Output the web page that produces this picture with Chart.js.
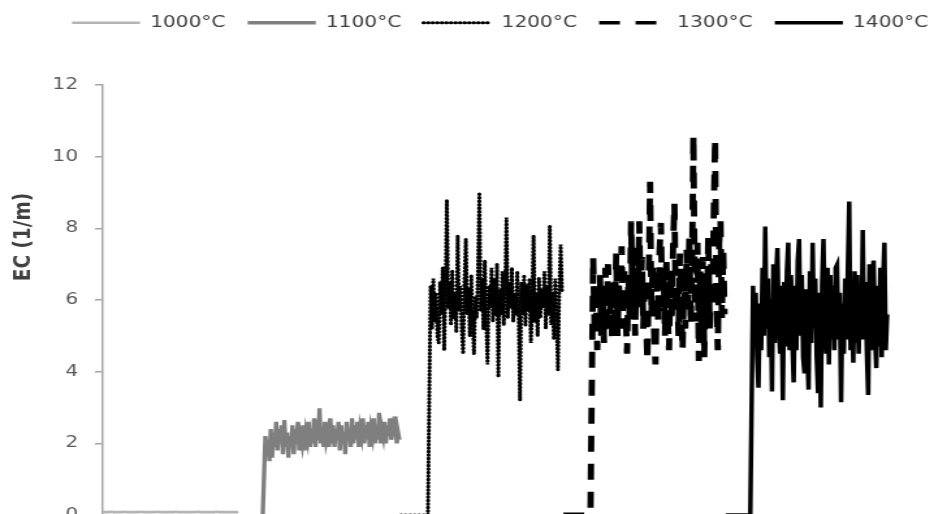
<!DOCTYPE html>
<html>
<head>
<meta charset="utf-8">
<script src="https://cdn.jsdelivr.net/npm/chart.js@4/dist/chart.umd.min.js"></script>
<style>
  html, body { margin: 0; padding: 0; background: #ffffff; overflow: hidden; }
  #wrap { width: 934px; height: 514px; overflow: hidden; position: relative; }
</style>
</head>
<body>
<div id="wrap"><canvas id="c" width="718" height="540" style="display:block;width:934px;height:540px;"></canvas></div>
<script>
// ---------------- DATA ----------------
const seriesNames = ['1000°C', '1100°C', '1200°C', '1300°C', '1400°C'];
const yTitle = 'EC (1/m)';
const yTicks = [0, 2, 4, 6, 8, 10, 12];

// time index where each record starts, and sample step of the readings
const start1000 = 0;
const leadStart1100 = 50,  start1100 = 60;
const leadStart1200 = 110, start1200 = 121;
const leadStart1300 = 170, start1300 = 181;
const leadStart1400 = 230, start1400 = 240;
const sampleStep = 0.5;

const values1000 = [
  0.08, 0.08, 0.08, 0.09, 0.08, 0.08, 0.08, 0.08, 0.09, 0.08,
  0.08, 0.08, 0.08, 0.08, 0.09, 0.08, 0.08, 0.08, 0.08, 0.08,
  0.09, 0.08, 0.08, 0.08, 0.08, 0.08, 0.08, 0.09, 0.08, 0.08,
  0.08, 0.08, 0.08, 0.08, 0.08, 0.09, 0.08, 0.08, 0.08, 0.08,
  0.08, 0.08, 0.09, 0.08, 0.08, 0.08, 0.08, 0.08, 0.08, 0.08, 0.08
];

const lead1100 = [-0.1, -0.1, -0.1, -0.1, -0.1, -0.1, -0.1, -0.1, -0.1, -0.1];
const values1100 = [
  2.2, 1.7, 2.1, 1.5, 2.4, 1.6, 2.3, 1.9, 2.6, 1.8,
  2.4, 2.0, 2.5, 1.7, 2.65, 1.9, 2.3, 1.6, 2.2, 1.9,
  2.5, 1.7, 2.4, 2.0, 2.6, 1.8, 2.2, 2.0, 2.5, 1.8,
  2.3, 2.1, 2.6, 1.9, 2.4, 2.0, 2.7, 1.9, 2.3, 2.1,
  2.98, 2.0, 2.4, 1.9, 2.6, 2.1, 2.3, 1.9, 2.7, 2.0,
  2.5, 1.9, 2.4, 2.1, 2.6, 1.8, 2.5, 2.0, 2.3, 1.7,
  2.6, 2.1, 2.4, 1.9, 2.7, 2.0, 2.5, 2.1, 2.6, 1.9,
  2.4, 2.2, 2.7, 2.0, 2.5, 2.1, 2.6, 1.9, 2.4, 2.2,
  2.7, 2.0, 2.5, 2.1, 2.85, 2.0, 2.4, 2.2, 2.6, 2.0,
  2.5, 2.2, 2.7, 2.1, 2.4, 2.2, 2.75, 2.0, 2.3, 2.1
];

const lead1200 = [0, 0, 0, 0, 0, 0, 0, 0, 0, 0, 0];
const values1200 = [
  6.4, 5.2, 6.6, 5.4, 6.2, 5.0, 4.8, 6.5, 5.6, 6.9,
  4.6, 6.3, 8.8, 5.8, 6.5, 5.3, 6.8, 5.5, 6.2, 5.1,
  7.8, 5.7, 6.4, 5.2, 4.5, 6.6, 7.7, 5.6, 6.3, 5.0,
  6.7, 5.4, 4.5, 6.1, 5.5, 6.9, 9.0, 5.7, 6.6, 5.2,
  7.1, 5.5, 4.2, 6.4, 5.8, 6.9, 5.4, 6.6, 5.6, 7.0,
  3.85, 6.3, 5.6, 6.8, 5.3, 6.2, 8.3, 5.5, 6.5, 5.8,
  6.9, 5.4, 6.2, 5.6, 6.8, 5.5, 3.2, 6.5, 5.6, 6.7,
  5.3, 6.4, 5.7, 6.6, 4.8, 5.9, 7.8, 5.4, 6.2, 5.0,
  6.6, 5.5, 6.3, 5.8, 6.8, 5.2, 6.4, 5.6, 8.05, 5.3,
  6.2, 4.9, 6.6, 5.4, 4.05, 6.3, 7.55, 6.2
];

const lead1300 = [0, 0, 0, 0, 0, 0, 0, 0, 0, 0, 0];
const values1300 = [
  7.2, 5.3, 6.1, 4.6, 5.6, 6.7, 5.0, 6.2, 4.8, 6.9,
  5.4, 7.0, 5.2, 6.3, 4.9, 6.6, 5.5, 7.3, 5.0, 6.4,
  5.8, 7.5, 5.2, 6.8, 5.6, 4.5, 6.7, 5.3, 8.2, 5.9,
  7.0, 5.0, 7.6, 5.8, 8.2, 6.0, 7.2, 5.2, 6.6, 5.5,
  4.3, 6.4, 9.3, 5.6, 7.0, 5.1, 4.2, 6.5, 5.4, 7.4,
  8.15, 5.8, 6.9, 5.0, 7.2, 5.6, 4.6, 6.8, 5.4, 7.5,
  8.7, 5.7, 6.4, 5.0, 7.3, 5.6, 4.6, 6.6, 5.2, 7.4,
  5.8, 7.8, 5.3, 7.0, 10.6, 6.2, 5.4, 7.6, 4.3, 6.8,
  5.1, 7.2, 4.4, 6.5, 5.6, 7.8, 5.2, 7.0, 5.8, 8.4,
  10.5, 6.0, 4.6, 7.6, 8.2, 5.5, 7.4, 5.6
];

const lead1400 = [0, 0, 0, 0, 0, 0, 0, 0, 0, 0];
const values1400 = [
  6.4, 4.7, 6.2, 4.4, 3.55, 5.9, 4.6, 6.9, 5.0, 8.05,
  5.2, 6.6, 4.4, 6.0, 3.45, 7.0, 4.8, 6.6, 7.45, 5.3,
  4.5, 6.4, 3.2, 6.5, 4.7, 6.8, 7.6, 4.6, 6.7, 4.9,
  3.7, 6.4, 4.6, 7.1, 7.7, 5.0, 6.7, 4.4, 3.95, 6.3,
  4.6, 3.5, 6.8, 4.8, 7.6, 5.2, 6.6, 4.4, 3.4, 6.2,
  3.0, 6.5, 7.7, 5.4, 4.5, 6.9, 4.2, 6.7, 4.9, 6.4,
  4.6, 6.9, 6.98, 4.9, 6.2, 3.15, 5.9, 4.5, 6.6, 4.9,
  6.9, 8.75, 4.6, 6.4, 4.25, 6.8, 4.8, 6.7, 4.5, 6.4,
  4.9, 7.95, 4.9, 6.5, 4.6, 3.35, 7.0, 4.6, 6.7, 7.1,
  5.0, 4.1, 6.4, 4.7, 6.9, 4.4, 6.5, 7.6, 4.6, 5.6
];

// ---------------- CHART ----------------
const toPoints = (start, step, vals) => vals.map((v, i) => ({ x: start + i * step, y: v }));
const series = (leadStart, lead, start, vals) =>
  toPoints(leadStart, 1, lead).concat(toPoints(start, sampleStep, vals));

const yTitlePlugin = {
  id: 'yTitleText',
  afterDraw(chart) {
    const ctx = chart.ctx;
    ctx.save();
    ctx.translate(17.7, 237);
    ctx.rotate(-Math.PI / 2);
    ctx.font = 'bold 18.5px "DejaVu Sans"';
    ctx.fillStyle = '#404040';
    ctx.textAlign = 'center';
    ctx.textBaseline = 'middle';
    ctx.fillText(yTitle, 0, 0);
    ctx.restore();
  }
};

const common = { pointRadius: 0, pointHoverRadius: 0, tension: 0, fill: false };

new Chart(document.getElementById('c'), {
  type: 'line',
  data: {
    datasets: [
      { ...common, label: seriesNames[0], data: toPoints(start1000, 1, values1000),
        borderColor: '#b4b4b4', backgroundColor: '#b4b4b4', borderWidth: 2.6 },
      { ...common, label: seriesNames[1], data: series(leadStart1100, lead1100, start1100, values1100),
        borderColor: '#7f7f7f', backgroundColor: '#7f7f7f', borderWidth: 3.3 },
      { ...common, label: seriesNames[2], data: series(leadStart1200, lead1200, start1200, values1200),
        borderColor: '#000000', backgroundColor: '#000000', borderWidth: 3.1,
        borderDash: [0.5, 3.0], borderCapStyle: 'round' },
      { ...common, label: seriesNames[3], data: series(leadStart1300, lead1300, start1300, values1300),
        borderColor: '#000000', backgroundColor: '#000000', borderWidth: 4.8,
        borderDash: [16, 12] },
      { ...common, label: seriesNames[4], data: series(leadStart1400, lead1400, start1400, values1400),
        borderColor: '#000000', backgroundColor: '#000000', borderWidth: 3.5 }
    ]
  },
  options: {
    responsive: false,
    devicePixelRatio: 1,
    animation: false,
    events: [],
    layout: { padding: { top: -2, left: 38.35, right: -32, bottom: 25 } },
    plugins: {
      legend: {
        display: true,
        position: 'top',
        align: 'start',
        labels: {
          usePointStyle: true,
          pointStyle: 'line',
          pointStyleWidth: 52.3,
          padding: 17,
          color: '#404040',
          font: { family: 'DejaVu Sans', size: 15.5 },
          generateLabels(chart) {
            return chart.data.datasets.map((ds, i) => ({
              text: ds.label,
              datasetIndex: i,
              hidden: false,
              fillStyle: ds.borderColor,
              strokeStyle: ds.borderColor,
              lineWidth: Math.min(ds.borderWidth, 3.6),
              lineDash: ds.borderDash || [],
              lineCap: ds.borderCapStyle || 'butt',
              pointStyle: 'line',
              fontColor: '#404040'
            }));
          }
        }
      },
      title: {
        display: true,
        text: ' ',
        weight: 500,
        font: { size: 10 },
        padding: { top: 32.5, bottom: 0 }
      },
      tooltip: { enabled: false }
    },
    scales: {
      x: {
        type: 'linear',
        display: false,
        min: 0,
        max: 306.8
      },
      y: {
        type: 'linear',
        min: 0,
        max: 12,
        afterFit(scale) { scale.width = 40.65; },
        afterBuildTicks(scale) { scale.ticks = yTicks.map(v => ({ value: v })); },
        ticks: {
          padding: 13,
          color: '#595959',
          font: { family: 'DejaVu Sans', size: 15.5 }
        },
        grid: {
          display: true,
          drawOnChartArea: false,
          drawTicks: true,
          tickLength: 6,
          color: '#a6a6a6',
          lineWidth: 1.5
        },
        border: { display: true, color: '#a6a6a6', width: 1.5 },
        title: { display: false }
      }
    }
  },
  plugins: [yTitlePlugin]
});
</script>
</body>
</html>
